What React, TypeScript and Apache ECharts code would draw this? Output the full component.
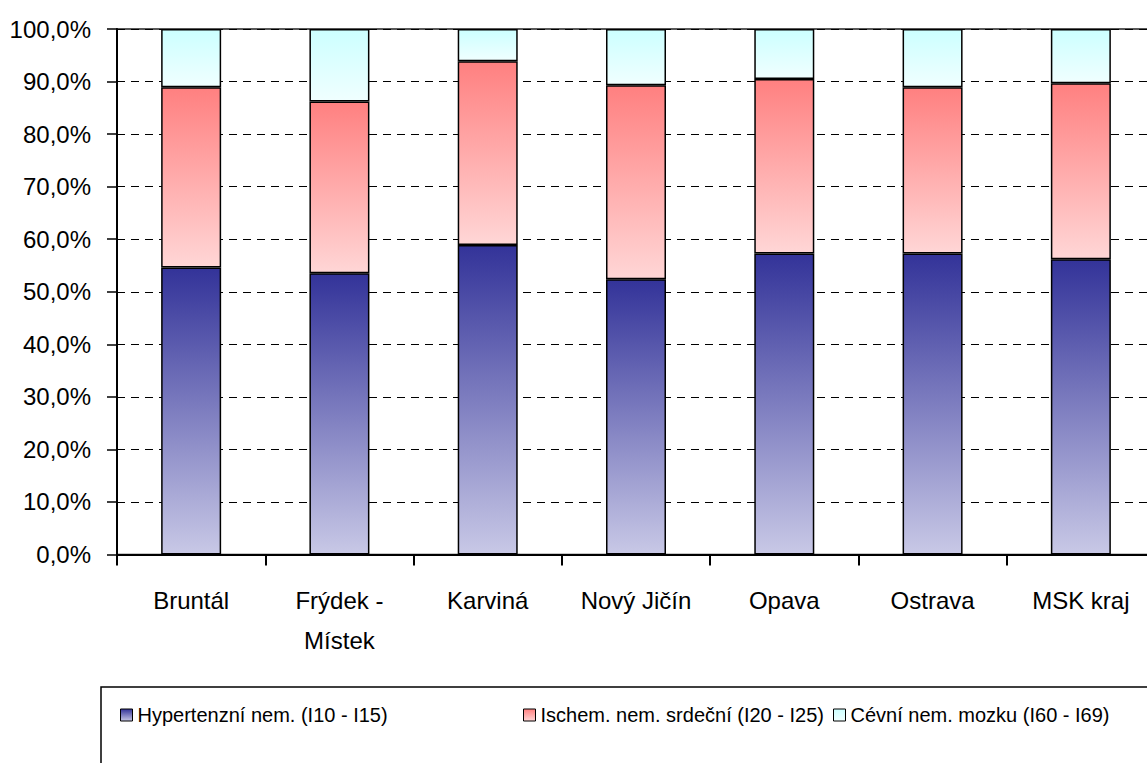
import React, { useEffect, useRef } from "react";
import * as echarts from "echarts";

const categories = ["Bruntál", "Frýdek - Místek", "Karviná", "Nový Jičín", "Opava", "Ostrava", "MSK kraj"];
const seriesNames = ["Hypertenzní nem. (I10 - I15)", "Ischem. nem. srdeční (I20 - I25)", "Cévní nem. mozku (I60 - I69)"];
const hypertenzni = [54.6, 53.5, 58.9, 52.4, 57.3, 57.3, 56.2];
const ischemicka = [34.3, 32.7, 34.95, 36.9, 33.2, 31.6, 33.5];
const cevni = [11.1, 13.8, 6.15, 10.7, 9.5, 11.1, 10.3];
const yTicks = [0, 10, 20, 30, 40, 50, 60, 70, 80, 90, 100];

const FONT = "'Liberation Sans', Arial, sans-serif";

function grad(top: string, bottom: string) {
  return new echarts.graphic.LinearGradient(0, 0, 0, 1, [
    { offset: 0, color: top },
    { offset: 1, color: bottom },
  ]);
}

export default function App() {
  const ref = useRef<HTMLDivElement>(null);
  useEffect(() => {
    if (!ref.current) return;
    const chart = echarts.init(ref.current, undefined, { renderer: "svg" });
    const colors = [
      grad("#333399", "#c8c8e6"),
      grad("#ff8080", "#ffd6d6"),
      grad("#ccffff", "#f0ffff"),
    ];
    const data = [hypertenzni, ischemicka, cevni];
    const legendLefts = [120, 523, 833];
    chart.setOption({
      animation: false,
      backgroundColor: "#ffffff",
      grid: {
        left: 117,
        top: 29,
        right: 8,
        bottom: 208.5,
        show: true,
        outerBoundsMode: "none",
        containLabel: false,
        borderColor: "#222",
        borderWidth: 1.5,
        backgroundColor: "transparent",
      },
      legend: seriesNames.map((n, i) => ({
        data: [n],
        left: legendLefts[i],
        top: 703,
        padding: 0,
        icon: "rect",
        itemWidth: 12,
        itemHeight: 12,
        itemGap: 5,
        itemStyle: { borderColor: "#000", borderWidth: 1 },
        textStyle: { fontFamily: FONT, fontSize: 20, color: "#000", lineHeight: 24 },
      })),
      xAxis: {
        type: "category",
        data: categories,
        axisLine: { lineStyle: { color: "#000", width: 2 } },
        axisTick: { show: true, alignWithLabel: false, length: 11, lineStyle: { color: "#000", width: 2 } },
        axisLabel: {
          margin: 26,
          fontFamily: FONT,
          fontSize: 24,
          color: "#000",
          lineHeight: 40,
          interval: 0,
          formatter: (v: string) => v.replace(" - ", " -\n"),
        },
      },
      yAxis: {
        type: "value",
        min: yTicks[0],
        max: yTicks[yTicks.length - 1],
        interval: yTicks[1] - yTicks[0],
        axisLine: { show: true, lineStyle: { color: "#000", width: 2 } },
        axisTick: { show: true, length: 10, lineStyle: { color: "#000", width: 1.5 } },
        axisLabel: {
          margin: 26,
          fontFamily: FONT,
          fontSize: 24,
          color: "#000",
          formatter: (v: number) => v.toFixed(1).replace(".", ",") + "%",
        },
        splitLine: { show: true, lineStyle: { color: "#000", width: 1, type: [8, 6] } },
      },
      series: seriesNames.map((n, i) => ({
        name: n,
        type: "bar",
        stack: "total",
        barWidth: 60,
        data: data[i],
        itemStyle: { color: colors[i], borderColor: "#000", borderWidth: 1.5 },
      })),
      graphic: [
        {
          type: "rect",
          shape: { x: 101, y: 687, width: 1100, height: 120 },
          style: { fill: "none", stroke: "#000", lineWidth: 1.5 },
          silent: true,
        },
      ],
    });
    return () => chart.dispose();
  }, []);
  return (
    <div style={{ position: "fixed", left: 0, top: 0, width: 1147, height: 763, overflow: "hidden", background: "#fff" }}>
      <div ref={ref} style={{ width: 1163, height: 763 }} />
    </div>
  );
}
